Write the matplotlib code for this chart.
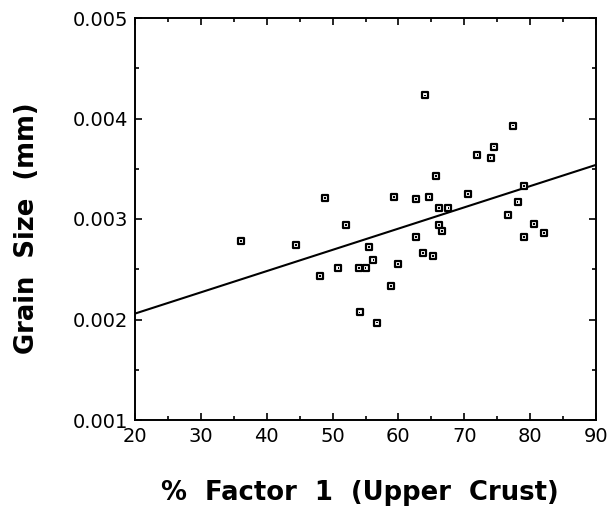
import matplotlib
matplotlib.use("Agg")
import matplotlib.pyplot as plt
import numpy as np
from matplotlib.ticker import MultipleLocator

# Data
factor1_pct = [36.1, 44.5, 48.9, 48.1, 50.9, 52.0, 54.0, 55.0, 55.5, 56.2,
               54.1, 56.7, 58.9, 59.3, 59.9, 62.7, 62.7, 64.0, 63.7, 64.7,
               65.2, 65.7, 66.2, 67.6, 66.2, 66.6, 70.6, 72.0, 74.0, 74.5,
               77.4, 79.1, 78.1, 76.7, 80.6, 79.1, 82.1]
grain_size_mm = [0.00278, 0.00274, 0.00321, 0.00243, 0.00251, 0.00294, 0.00251, 0.00251, 0.00272, 0.00259,
                 0.00207, 0.00197, 0.00233, 0.00322, 0.00255, 0.00320, 0.00282, 0.00423, 0.00266, 0.00322,
                 0.00263, 0.00343, 0.00311, 0.00311, 0.00294, 0.00288, 0.00325, 0.00364, 0.00361, 0.00372,
                 0.00393, 0.00333, 0.00317, 0.00304, 0.00295, 0.00282, 0.00286]

# Regression line
fit_intercept = 0.001636
fit_slope = 2.114e-5

x_ticks = [20, 30, 40, 50, 60, 70, 80, 90]
x_tick_labels = ["20", "30", "40", "50", "60", "70", "80", "90"]
y_ticks = [0.001, 0.002, 0.003, 0.004, 0.005]
y_tick_labels = ["0.001", "0.002", "0.003", "0.004", "0.005"]

x_label = "%  Factor  1  (Upper  Crust)"
y_label = "Grain  Size  (mm)"

fig = plt.figure(figsize=(6.13, 5.07), dpi=100)
ax = fig.add_axes([135/613, 1-420/507, (596-135)/613, (420-18)/507])

ax.set_xlim(20, 90)
ax.set_ylim(0.001, 0.005)

xl = np.array(ax.get_xlim())
ax.plot(xl, fit_intercept + fit_slope * xl, color="black", lw=1.5, zorder=2)

ax.scatter(factor1_pct, grain_size_mm, marker="s", s=22, facecolor="white",
           edgecolor="black", linewidths=1.6, zorder=3)
ax.scatter(factor1_pct, grain_size_mm, marker="s", s=1.5, facecolor="black",
           edgecolor="none", zorder=4)

ax.set_xticks(x_ticks)
ax.set_xticklabels(x_tick_labels)
ax.set_yticks(y_ticks)
ax.set_yticklabels(y_tick_labels)
ax.xaxis.set_minor_locator(MultipleLocator(5))
ax.yaxis.set_minor_locator(MultipleLocator(0.0005))

ax.tick_params(which="both", direction="in", top=True, right=True,
               width=1.2, color="black")
ax.tick_params(which="major", length=5, labelsize=14, pad=5)
ax.tick_params(which="minor", length=3)
for lab in ax.get_xticklabels() + ax.get_yticklabels():
    lab.set_family("DejaVu Sans")

for sp in ax.spines.values():
    sp.set_linewidth(1.4)

fig.text(360/613, 1-493/507, x_label, ha="center", va="center",
         fontsize=18.6, fontweight="bold", family="DejaVu Sans")
fig.text(27/613, 1-228/507, y_label, ha="center", va="center", rotation=90,
         fontsize=18.6, fontweight="bold", family="DejaVu Sans")

fig.savefig("out.png", dpi=100)
